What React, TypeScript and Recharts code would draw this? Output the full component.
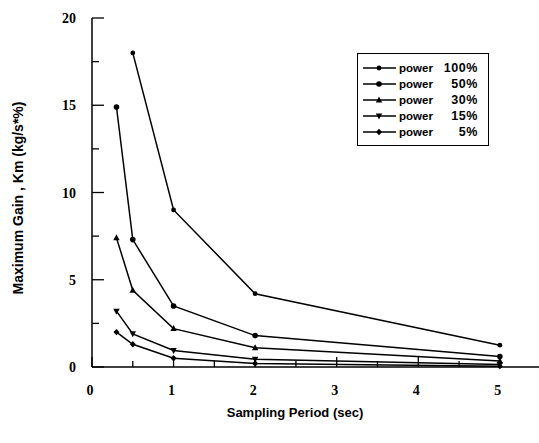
import React from "react";
import { LineChart, Line, XAxis, YAxis, Label } from "recharts";

const periods = [0.3, 0.5, 1, 2, 5];
const power100 = [null, 18.0, 9.0, 4.2, 1.25];
const power50 = [14.9, 7.3, 3.5, 1.8, 0.6];
const power30 = [7.4, 4.4, 2.2, 1.1, 0.35];
const power15 = [3.2, 1.9, 0.95, 0.45, 0.15];
const power5 = [2.0, 1.3, 0.5, 0.2, 0.05];

const xTicks = [0, 0.5, 1, 1.5, 2, 2.5, 3, 3.5, 4, 4.5, 5];
const yTicks = [0, 2.5, 5, 7.5, 10, 12.5, 15, 17.5, 20];

const data = periods.map((p, i) => ({
  period: p,
  p100: power100[i],
  p50: power50[i],
  p30: power30[i],
  p15: power15[i],
  p5: power5[i],
}));

const SERIES = [
  { key: "p100", name: "power", pct: "100%", shape: "dot" },
  { key: "p50", name: "power", pct: "50%", shape: "circle" },
  { key: "p30", name: "power", pct: "30%", shape: "up" },
  { key: "p15", name: "power", pct: "15%", shape: "down" },
  { key: "p5", name: "power", pct: "5%", shape: "diamond" },
];

const Marker = ({ cx, cy, shape }: any) => {
  if (cx == null || cy == null || isNaN(cx) || isNaN(cy)) return null;
  if (shape === "up")
    return <polygon points={`${cx},${cy - 3.5} ${cx - 3.2},${cy + 2.5} ${cx + 3.2},${cy + 2.5}`} fill="#000" />;
  if (shape === "down")
    return <polygon points={`${cx},${cy + 3.5} ${cx - 3.2},${cy - 2.5} ${cx + 3.2},${cy - 2.5}`} fill="#000" />;
  if (shape === "diamond")
    return <polygon points={`${cx},${cy - 3.2} ${cx + 3},${cy} ${cx},${cy + 3.2} ${cx - 3},${cy}`} fill="#000" />;
  return <circle cx={cx} cy={cy} r={shape === "dot" ? 2.4 : 2.8} fill="#000" />;
};

const XTick = ({ x, y, payload }: any) => {
  const v = payload.value;
  const major = Number.isInteger(v);
  return (
    <g>
      <line x1={x} x2={x} y1={y} y2={y - (major ? 10 : 6)} stroke="#000" strokeWidth={1.3} />
      {major && (
        <text x={x - 2} y={y + 28} textAnchor="middle" fontFamily="Liberation Serif" fontWeight="bold" fontSize={14} fill="#000">
          {v}
        </text>
      )}
    </g>
  );
};

const YTick = ({ x, y, payload }: any) => {
  const v = payload.value;
  const major = Number.isInteger(v);
  return (
    <g>
      <line x1={x} x2={x + (major ? 12 : 7)} y1={y} y2={y} stroke="#000" strokeWidth={1.3} />
      {major && (
        <text x={x - 16} y={y + 5} textAnchor="end" fontFamily="Liberation Serif" fontWeight="bold" fontSize={14} fill="#000">
          {v}
        </text>
      )}
    </g>
  );
};

const LegendBox = () => (
  <div
    style={{
      position: "absolute",
      left: 357,
      top: 53,
      border: "1.5px solid #000",
      width: 132,
      padding: "6px 0 5px 0",
      background: "#fff",
      fontFamily: "Liberation Sans",
      fontWeight: "bold",
      fontSize: 11.5,
      color: "#000",
      boxSizing: "border-box",
    }}
  >
    {SERIES.map((s) => (
      <div key={s.key} style={{ display: "flex", alignItems: "center", height: 16 }}>
        <svg width={36} height={12} style={{ marginLeft: 5 }}>
          <line x1={0} x2={33} y1={6} y2={6} stroke="#000" strokeWidth={1.3} />
          <Marker cx={16} cy={6} shape={s.shape} />
        </svg>
        <span style={{ width: 36 }}>{s.name}</span>
        <span style={{ width: 43, textAlign: "right", fontSize: 12.5, letterSpacing: 0.6 }}>{s.pct}</span>
      </div>
    ))}
  </div>
);

export default function App() {
  return (
    <div style={{ position: "absolute", left: 0, top: 0, width: 539, height: 443, background: "#fff" }}>
      <LineChart width={539} height={443} data={data} margin={{ top: 18, right: 0, left: 0, bottom: 0 }}>
        <XAxis
          dataKey="period"
          type="number"
          domain={[0, 5.48]}
          ticks={xTicks}
          interval={0}
          height={76}
          tickSize={0}
          tickMargin={0}
          tickLine={false}
          tick={<XTick />}
          axisLine={{ stroke: "#000", strokeWidth: 1.5 }}
        >
          <Label
            content={() => (
              <text x={295} y={417} textAnchor="middle" fontFamily="Liberation Sans" fontWeight="bold" fontSize={13} fill="#000">
                Sampling Period (sec)
              </text>
            )}
          />
        </XAxis>
        <YAxis
          type="number"
          domain={[0, 20]}
          ticks={yTicks}
          interval={0}
          width={92}
          tickSize={0}
          tickMargin={0}
          tickLine={false}
          tick={<YTick />}
          axisLine={{ stroke: "#000", strokeWidth: 1.5 }}
        >
          <Label
            content={() => (
              <text
                x={23}
                y={198}
                transform="rotate(-90 23 198)"
                textAnchor="middle"
                fontFamily="Liberation Sans"
                fontWeight="bold"
                fontSize={14}
                fill="#000"
              >
                Maximum Gain , Km (kg/s*%)
              </text>
            )}
          />
        </YAxis>
        {SERIES.map((s) => (
          <Line
            key={s.key}
            dataKey={s.key}
            name={`${s.name} ${s.pct}`}
            stroke="#000"
            strokeWidth={1.5}
            dot={(p: any) => <Marker key={`${s.key}-${p.index}`} cx={p.cx} cy={p.cy} shape={s.shape} />}
            activeDot={false}
            isAnimationActive={false}
          />
        ))}
      </LineChart>
      <LegendBox />
    </div>
  );
}
